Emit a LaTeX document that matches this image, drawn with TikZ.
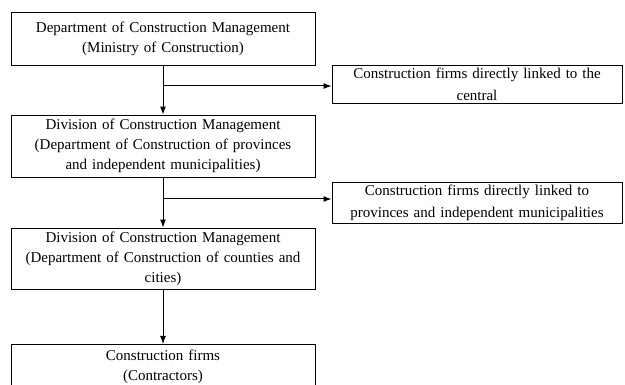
\documentclass[tikz,border=0pt]{standalone}
\usepackage{fontspec}
\setmainfont{Liberation Serif}
\usetikzlibrary{arrows.meta}

\tikzset{
    mainbox/.style = {draw, line width = 0.9pt, minimum width = 304pt, text width = 300pt,
                      align = center, inner sep = 0pt, font = \fontsize{15}{20}\selectfont},
    sidebox/.style = {draw, line width = 0.9pt, minimum width = 290pt, text width = 288pt,
                      align = center, inner sep = 0pt, font = \fontsize{15}{22}\selectfont},
    link/.style = {line width = 1pt, -{Latex[length=8pt, width=6pt]}}
}

\begin{document}
\begin{tikzpicture}[x=1pt, y=-1pt]
    \useasboundingbox (0,0) rectangle (625,385);
    % left column
    \node [mainbox, minimum height = 53pt] (dcm) at (163,38.5) {Department of Construction Management\\ (Ministry of Construction)};
    \node [mainbox, minimum height = 62pt] (prov) at (163,146) {Division of Construction Management\\ (Department of Construction of provinces\\ and independent municipalities)};
    \node [mainbox, minimum height = 61pt] (city) at (163,258.5) {Division of Construction Management\\ (Department of Construction of counties and\\ cities)};
    \node [mainbox, minimum height = 44pt, anchor = north] (firms) at (163,344) {Construction firms\\ (Contractors)};
    % right column
    \node [sidebox, minimum height = 38pt] (central) at (477,84) {Construction firms directly linked to the\\ central};
    \node [sidebox, minimum height = 41pt] (local) at (477,202.5) {Construction firms directly linked to\\ provinces and independent municipalities};
    % branch points
    \coordinate (b1) at (163,86);
    \coordinate (b2) at (163,199);
    % connectors
    \draw [link] (dcm) -- (prov);
    \draw [link] (prov) -- (city);
    \draw [link] (city) -- (firms);
    \draw [link] (b1) -- (b1 -| central.west);
    \draw [link] (b2) -- (b2 -| local.west);
\end{tikzpicture}
\end{document}
